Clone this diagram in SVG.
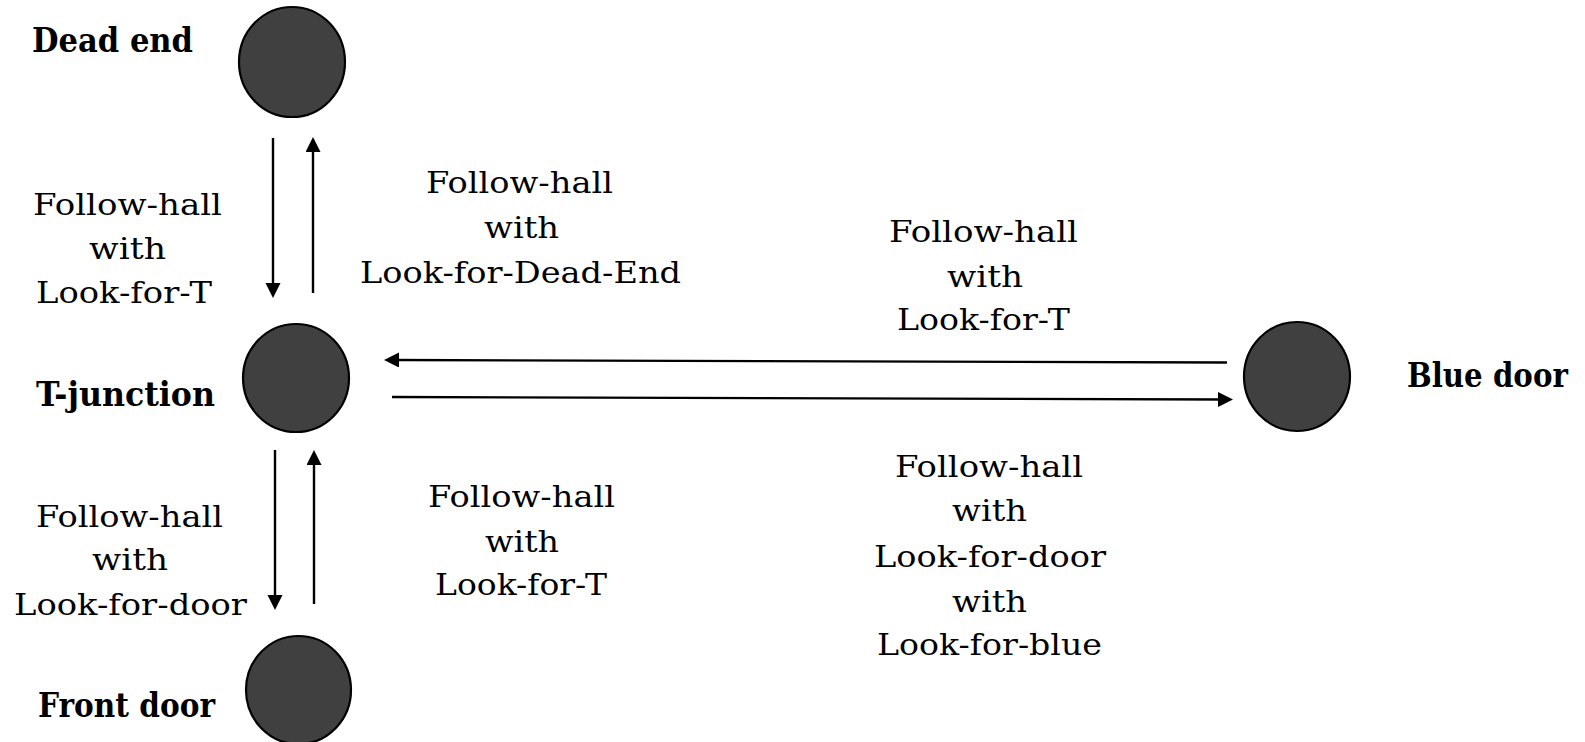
<svg xmlns="http://www.w3.org/2000/svg" width="1585" height="742" viewBox="0 0 1585 742">
  <style>
    .state { fill: #404040; stroke: #000; stroke-width: 2.2; }
    .name { font-family: "DejaVu Serif", "Liberation Serif", serif; font-weight: bold; font-size: 33px; fill: #000; }
    .lbl { font-family: "DejaVu Serif", "Liberation Serif", serif; font-size: 29px; fill: #000; }
    .edge { stroke: #000; stroke-width: 2.4; fill: none; marker-end: url(#head); }
  </style>
  <defs>
    <marker id="head" markerUnits="userSpaceOnUse" markerWidth="16" markerHeight="16" refX="5" refY="7.5" orient="auto">
      <path d="M0,0 L15,7.5 L0,15 Z" fill="#000"/>
    </marker>
  </defs>

  <rect width="1585" height="742" fill="#fff"/>

  <g id="dead-end">
    <ellipse class="state" cx="292" cy="62" rx="53" ry="55"/>
    <text class="name" x="32" y="52" textLength="161" lengthAdjust="spacingAndGlyphs">Dead end</text>
  </g>

  <g id="t-junction">
    <ellipse class="state" cx="296" cy="378" rx="53" ry="54"/>
    <text class="name" x="36" y="406" textLength="179" lengthAdjust="spacingAndGlyphs">T-junction</text>
  </g>

  <g id="front-door">
    <ellipse class="state" cx="298.5" cy="690" rx="52.5" ry="54"/>
    <text class="name" x="38" y="717" textLength="177" lengthAdjust="spacingAndGlyphs">Front door</text>
  </g>

  <g id="blue-door">
    <ellipse class="state" cx="1297" cy="376.5" rx="53" ry="54.5"/>
    <!-- narrowed horizontally so the label ends well inside the right edge -->
    <text class="name" transform="translate(1407,387) scale(0.86,1)" x="0" y="0" textLength="187" lengthAdjust="spacingAndGlyphs">Blue door</text>
  </g>

  <g id="connectors">
    <!-- Dead end <-> T-junction -->
    <path class="edge" d="M273,138 L273,288"/>
    <path class="edge" d="M313,293 L313,147"/>
    <!-- T-junction <-> Front door -->
    <path class="edge" d="M275,450 L275,600"/>
    <path class="edge" d="M314,604 L314,460"/>
    <!-- T-junction <-> Blue door -->
    <path class="edge" d="M1227,362.5 L394,360"/>
    <path class="edge" d="M392,397 L1223,399.5"/>
  </g>

  <g id="edge-labels">
    <g id="label-dead-end-to-t">
      <text class="lbl" x="33" y="215" textLength="189" lengthAdjust="spacingAndGlyphs">Follow-hall</text>
      <text class="lbl" x="89" y="259" textLength="77" lengthAdjust="spacingAndGlyphs">with</text>
      <text class="lbl" x="36" y="303" textLength="176" lengthAdjust="spacingAndGlyphs">Look-for-T</text>
    </g>
    <g id="label-t-to-dead-end">
      <text class="lbl" x="426" y="193" textLength="187" lengthAdjust="spacingAndGlyphs">Follow-hall</text>
      <text class="lbl" x="484" y="238" textLength="75" lengthAdjust="spacingAndGlyphs">with</text>
      <text class="lbl" x="360" y="283" textLength="321" lengthAdjust="spacingAndGlyphs">Look-for-Dead-End</text>
    </g>
    <g id="label-blue-to-t">
      <text class="lbl" x="889" y="242" textLength="189" lengthAdjust="spacingAndGlyphs">Follow-hall</text>
      <text class="lbl" x="947" y="287" textLength="76" lengthAdjust="spacingAndGlyphs">with</text>
      <text class="lbl" x="897" y="330" textLength="173" lengthAdjust="spacingAndGlyphs">Look-for-T</text>
    </g>
    <g id="label-t-to-front">
      <text class="lbl" x="36" y="527" textLength="187" lengthAdjust="spacingAndGlyphs">Follow-hall</text>
      <text class="lbl" x="92" y="570" textLength="76" lengthAdjust="spacingAndGlyphs">with</text>
      <text class="lbl" x="14" y="615" textLength="233" lengthAdjust="spacingAndGlyphs">Look-for-door</text>
    </g>
    <g id="label-front-to-t">
      <text class="lbl" x="428" y="507" textLength="187" lengthAdjust="spacingAndGlyphs">Follow-hall</text>
      <text class="lbl" x="485" y="552" textLength="74" lengthAdjust="spacingAndGlyphs">with</text>
      <text class="lbl" x="435" y="595" textLength="172" lengthAdjust="spacingAndGlyphs">Look-for-T</text>
    </g>
    <g id="label-t-to-blue">
      <text class="lbl" x="895" y="477" textLength="188" lengthAdjust="spacingAndGlyphs">Follow-hall</text>
      <text class="lbl" x="952" y="521" textLength="75" lengthAdjust="spacingAndGlyphs">with</text>
      <text class="lbl" x="874" y="567" textLength="232" lengthAdjust="spacingAndGlyphs">Look-for-door</text>
      <text class="lbl" x="952" y="612" textLength="75" lengthAdjust="spacingAndGlyphs">with</text>
      <text class="lbl" x="877" y="655" textLength="225" lengthAdjust="spacingAndGlyphs">Look-for-blue</text>
    </g>
  </g>
</svg>
